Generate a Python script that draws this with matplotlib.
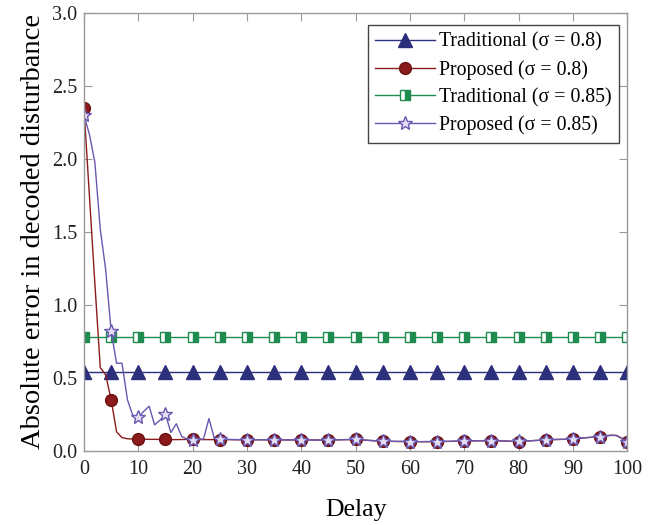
import matplotlib.pyplot as plt

plt.rcParams['font.family'] = ['Liberation Serif', 'DejaVu Serif']

delay = list(range(0, 101))
delay_coarse = list(range(0, 101, 5))

# Traditional schemes: flat error, sampled every 5 delays
trad_08 = [0.54, 0.54, 0.54, 0.54, 0.54, 0.54, 0.54, 0.54, 0.54, 0.54, 0.54,
           0.54, 0.54, 0.54, 0.54, 0.54, 0.54, 0.54, 0.54, 0.54, 0.54]
trad_085 = [0.78, 0.78, 0.78, 0.78, 0.78, 0.78, 0.78, 0.78, 0.78, 0.78, 0.78,
            0.78, 0.78, 0.78, 0.78, 0.78, 0.78, 0.78, 0.78, 0.78, 0.78]

# Proposed schemes, one value per delay step
prop_08 = [2.35, 1.75, 1.15, 0.57, 0.52, 0.35, 0.13, 0.09, 0.082, 0.08,
           0.08, 0.079, 0.078, 0.078, 0.077, 0.077, 0.076, 0.076, 0.077, 0.077,
           0.077, 0.077, 0.076, 0.076, 0.076, 0.076, 0.076, 0.076, 0.075, 0.075,
           0.075, 0.075, 0.075, 0.075, 0.074, 0.074, 0.074, 0.074, 0.074, 0.074,
           0.074, 0.074, 0.074, 0.073, 0.073, 0.073, 0.074, 0.075, 0.076, 0.076,
           0.077, 0.075, 0.072, 0.069, 0.067, 0.066, 0.065, 0.064, 0.063, 0.063,
           0.062, 0.062, 0.062, 0.062, 0.062, 0.062, 0.063, 0.064, 0.065, 0.066,
           0.066, 0.067, 0.068, 0.068, 0.068, 0.069, 0.068, 0.067, 0.066, 0.064,
           0.063, 0.065, 0.068, 0.070, 0.072, 0.074, 0.075, 0.077, 0.078, 0.079,
           0.080, 0.084, 0.088, 0.091, 0.094, 0.097, 0.102, 0.106, 0.105, 0.085,
           0.058]
prop_085 = [2.30, 2.17, 1.98, 1.52, 1.24, 0.82, 0.60, 0.60, 0.35, 0.24,
            0.23, 0.27, 0.305, 0.177, 0.21, 0.25, 0.125, 0.185, 0.097, 0.08,
            0.076, 0.08, 0.08, 0.22, 0.085, 0.08, 0.078, 0.077, 0.076, 0.076,
            0.076, 0.075, 0.075, 0.075, 0.075, 0.074, 0.074, 0.074, 0.075, 0.074,
            0.074, 0.074, 0.073, 0.073, 0.073, 0.073, 0.074, 0.075, 0.076, 0.077,
            0.077, 0.075, 0.072, 0.070, 0.068, 0.066, 0.065, 0.064, 0.064, 0.063,
            0.063, 0.062, 0.062, 0.063, 0.063, 0.063, 0.064, 0.064, 0.065, 0.066,
            0.067, 0.067, 0.068, 0.069, 0.069, 0.069, 0.068, 0.067, 0.066, 0.065,
            0.064, 0.066, 0.068, 0.070, 0.072, 0.074, 0.076, 0.077, 0.078, 0.079,
            0.081, 0.085, 0.088, 0.091, 0.094, 0.096, 0.101, 0.105, 0.104, 0.084,
            0.060]

navy = '#2C2F7C'
red = '#8B1A1A'
green = '#1E8C4E'
purple = '#6A58B0'

fig = plt.figure(figsize=(6.68, 5.25), dpi=100)
ax = fig.add_axes([0.1257, 0.1415, 0.8133, 0.8332])

ax.plot(delay_coarse, trad_08, color=navy, lw=1.0, marker='^', ms=10,
        mfc=navy, mec=navy, label='Traditional (σ = 0.8)')
ax.plot(delay, prop_08, color=red, lw=1.0, marker='o', ms=8.5, markevery=5,
        mfc=red, mec='#6a1010', label='Proposed (σ = 0.8)')
ax.plot(delay_coarse, trad_085, color=green, lw=1.0, marker='s', ms=7,
        fillstyle='right', mfc=green, mfcalt='white', mec=green,
        label='Traditional (σ = 0.85)')
ax.plot(delay, prop_085, color=purple, lw=1.0, marker='*', ms=10.5, markevery=5,
        mfc='#e4def5', mec=purple, mew=1.0, label='Proposed (σ = 0.85)')

ax.set_xlim(0, 100)
ax.set_ylim(0, 3.0)
ax.set_xticks(range(0, 101, 10))
ax.set_yticks([0.0, 0.5, 1.0, 1.5, 2.0, 2.5, 3.0])
ax.set_yticklabels(['0.0', '0.5', '1.0', '1.5', '2.0', '2.5', '3.0'])

for s in ax.spines.values():
    s.set_color('#9a9a9a')
    s.set_linewidth(1.0)
ax.tick_params(direction='in', length=6, width=0.8, color='#9a9a9a',
               top=True, right=True, labelsize=14.5, labelcolor='#222222')
ax.tick_params(axis='x', pad=7)
ax.tick_params(axis='y', pad=5)

ax.set_xlabel('Delay', fontsize=18.5, labelpad=14)
ax.set_ylabel('Absolute error in decoded disturbance', fontsize=20.5, labelpad=4)

leg = ax.legend(loc='upper right', bbox_to_anchor=(0.985, 0.974), borderaxespad=0,
                fontsize=14.3, fancybox=False, edgecolor='#444444', framealpha=1,
                handlelength=3.0, handletextpad=0.2, labelspacing=0.42,
                borderpad=0.38)
leg.get_frame().set_linewidth(1.0)

fig.savefig('out.png', dpi=100)
